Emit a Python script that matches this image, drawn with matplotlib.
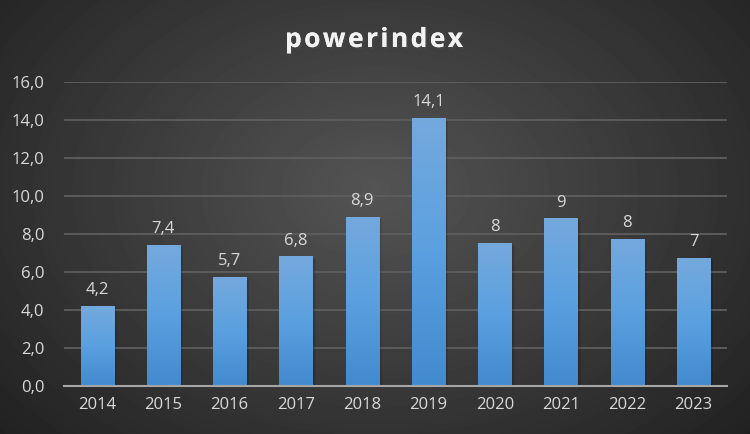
import numpy as np
import matplotlib.pyplot as plt
from matplotlib.patches import Rectangle
from matplotlib.colors import LinearSegmentedColormap
import matplotlib.patheffects as pe

years = ["2014", "2015", "2016", "2017", "2018", "2019", "2020", "2021", "2022", "2023"]
values = [4.2, 7.4, 5.7, 6.8, 8.9, 14.1, 7.5, 8.8, 7.7, 6.7]
labels = ["4,2", "7,4", "5,7", "6,8", "8,9", "14,1", "8", "9", "8", "7"]
yticks = [0, 2, 4, 6, 8, 10, 12, 14, 16]
title = "powerindex"

plt.rcParams["font.family"] = ["Open Sans", "DejaVu Sans"]

fig = plt.figure(figsize=(7.5, 4.34), dpi=100)

# radial background
bg = fig.add_axes([0, 0, 1, 1])
yy, xx = np.mgrid[0:434, 0:750]
d = np.sqrt(((xx - 375) / 560) ** 2 + ((yy - 190) / 400) ** 2)
shade = np.clip(0.33 - 0.22 * d, 0.12, 0.33)
bg.imshow(shade, cmap="gray", vmin=0, vmax=1, aspect="auto", extent=[0, 1, 0, 1])
bg.set_axis_off()

ax = fig.add_axes([0.0853, 0.1113, 0.8837, 0.7005])
ax.patch.set_alpha(0)
x = np.arange(len(years))
bars = ax.bar(x, values, width=0.5, color="#5b9bd5", zorder=3)

# vertical gradient on each bar + soft shadow
grad = np.linspace(0, 1, 256).reshape(-1, 1)
cmap = LinearSegmentedColormap.from_list("b", ["#428ace", "#5aa0e0", "#74a9dd"])
for b in bars:
    bx, by, bw, bh = b.get_x(), b.get_y(), b.get_width(), b.get_height()
    for k in range(4):
        off = 0.012 * (k + 1)
        ax.add_patch(Rectangle((bx + off, by), bw, bh - 0.03 * (k + 1), color="black",
                               alpha=0.07, lw=0, zorder=2))
    im = ax.imshow(grad, cmap=cmap, aspect="auto", extent=[bx, bx + bw, by, by + bh],
                   origin="lower", zorder=4)
    im.set_clip_path(b)

for xi, v, lab in zip(x, values, labels):
    ax.text(xi, v + 0.42, lab, ha="center", va="bottom", color="#d9d9d9", fontsize=12, zorder=5)

ax.set_xlim(-0.5, len(years) - 0.5)
ax.set_ylim(0, 16)
ax.set_yticks(yticks)
ax.set_yticklabels([f"{t:.1f}".replace(".", ",") for t in yticks])
ax.set_xticks(x)
ax.set_xticklabels(years)
ax.tick_params(colors="#d9d9d9", labelsize=12, length=0)
ax.tick_params(axis="y", pad=14)
ax.tick_params(axis="x", pad=8)
ax.grid(axis="y", color="#5e5e5e", linewidth=1.3, zorder=1)
for s in ["top", "right", "left"]:
    ax.spines[s].set_visible(False)
ax.spines["bottom"].set_color("#a6a6a6")
ax.spines["bottom"].set_linewidth(1.5)
ax.spines["bottom"].set_zorder(6)

# title with letter spacing, placed char by char
renderer = fig.canvas.get_renderer()
tprops = dict(color="#f2f2f2", fontsize=19, fontweight="bold", va="baseline", ha="left",
              path_effects=[pe.withSimplePatchShadow(offset=(1.5, -1.5), alpha=0.6), pe.Normal()])
spacing = 2.5  # px between letters
widths = []
for ch in title:
    t = fig.text(0, 0, ch, **tprops)
    widths.append(t.get_window_extent(renderer).width)
    t.remove()
total = sum(widths) + spacing * (len(title) - 1)
xpos = 374 - total / 2
for ch, w in zip(title, widths):
    fig.text(xpos / 750, 1 - 47 / 434, ch, **tprops)
    xpos += w + spacing

fig.savefig("out.png", dpi=100)
